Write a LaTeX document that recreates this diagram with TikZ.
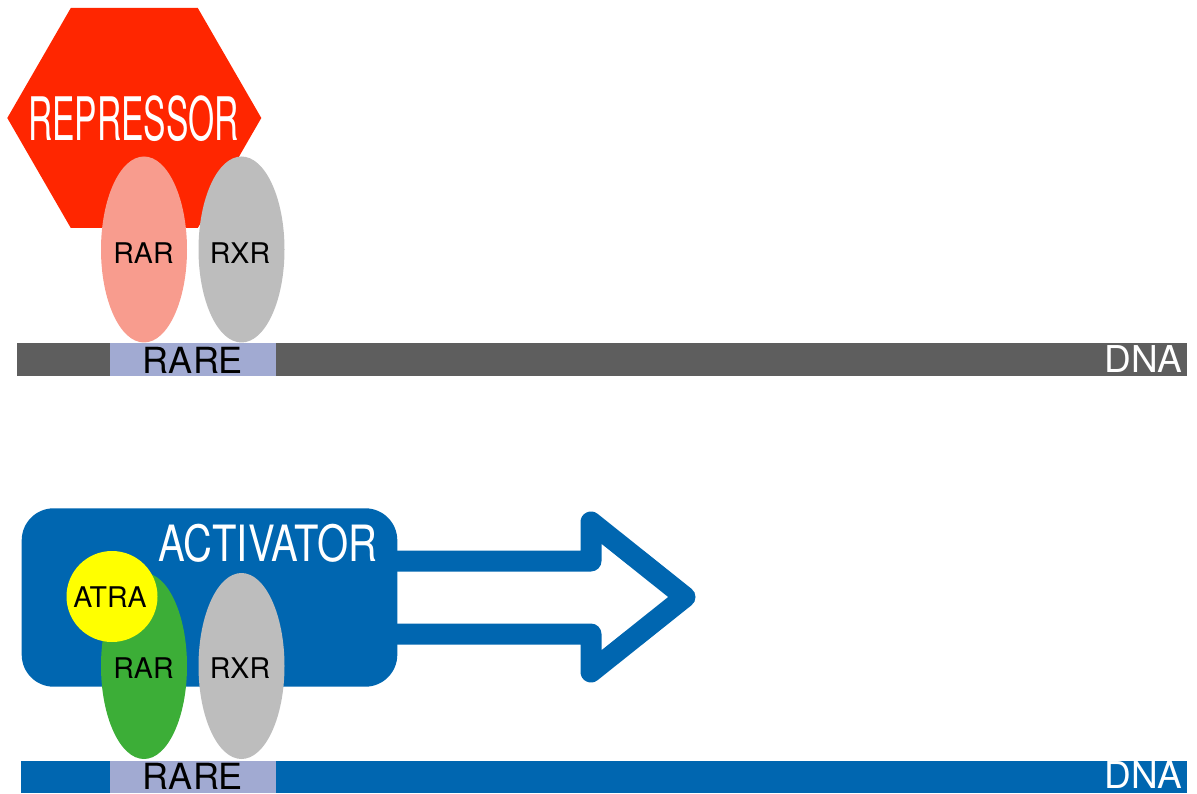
\documentclass[tikz,border=0pt]{standalone}
\usepackage{fontspec}
\usepackage{graphicx}
\setmainfont{TeX Gyre Heros}
\usetikzlibrary{shapes.geometric}
\definecolor{dnagray}{HTML}{5E5E5E}
\definecolor{rarebox}{HTML}{A1AAD2}
\definecolor{repred}{HTML}{FF2600}
\definecolor{salmon}{HTML}{F89C8E}
\definecolor{rxrgray}{HTML}{BDBDBD}
\definecolor{actblue}{HTML}{0066B0}
\definecolor{rargreen}{HTML}{3CAE37}
\definecolor{atrayellow}{HTML}{FFFF00}
\tikzset{
  prot/.style={ellipse, inner sep=0pt, minimum width=86pt, minimum height=186pt},
  lbl/.style={inner sep=0pt, text=black, font=\fontsize{28.5}{28.5}\selectfont},
  rarelbl/.style={inner sep=0pt, text=black, font=\fontsize{36}{36}\selectfont},
  dnalbl/.style={inner sep=0pt, text=white, font=\fontsize{37}{37}\selectfont},
}
\begin{document}
\begin{tikzpicture}[x=1pt,y=-1pt]
\useasboundingbox (0,0) rectangle (1197,794);
% ---------- top panel ----------
\fill[dnagray] (17,343) rectangle (1187,376);
\fill[rarebox] (110,343) rectangle (276,376);
\node[rarelbl] (rare1) at (193,360) {RARE};
\node[dnalbl] (dna1) at (1143.5,359.5) {DNA};
\fill[repred] (7.3,118) -- (70.8,8) -- (197.8,8) -- (261.3,118) -- (197.8,228) -- (70.8,228) -- cycle;
\node[inner sep=0pt, text=white, font=\fontsize{60}{60}\selectfont] (rep) at (133.5,118.5) {\scalebox{0.56}[1]{REPRESSOR}};
\node[prot, fill=salmon] (rar1) at (144,249.5) {};
\node[prot, fill=rxrgray] (rxr1) at (241.5,249.5) {};
\node[lbl] (rar1t) at (143.5,253) {RAR};
\node[lbl] (rxr1t) at (240,253) {RXR};
% ---------- bottom panel ----------
\fill[actblue] (21,760.5) rectangle (1187,793);
\fill[rarebox] (110,760.5) rectangle (276,793);
\node[rarelbl] (rare2) at (193,776) {RARE};
\node[dnalbl] (dna2) at (1143.5,775.5) {DNA};
\fill[actblue, rounded corners=32pt] (21.7,508.3) rectangle (397.3,686.7);
\node[inner sep=0pt, text=white, font=\fontsize{50}{50}\selectfont] (act) at (268,543) {\scalebox{0.8}[1]{ACTIVATOR}};
\draw[actblue, line width=21pt, line join=round, line cap=round]
  (397,561) -- (591,561) -- (591,522) -- (685,597) -- (591,672) -- (591,634) -- (397,634);
\node[prot, fill=rargreen] (rar2) at (144,666) {};
\node[prot, fill=rxrgray] (rxr2) at (241.5,666) {};
\node[circle, fill=atrayellow, inner sep=0pt, minimum size=91pt] (atra) at (112,596.5) {};
\node[lbl] (atrat) at (110,597.5) {ATRA};
\node[lbl] (rar2t) at (143.5,668.5) {RAR};
\node[lbl] (rxr2t) at (240,668.5) {RXR};
\end{tikzpicture}
\end{document}
